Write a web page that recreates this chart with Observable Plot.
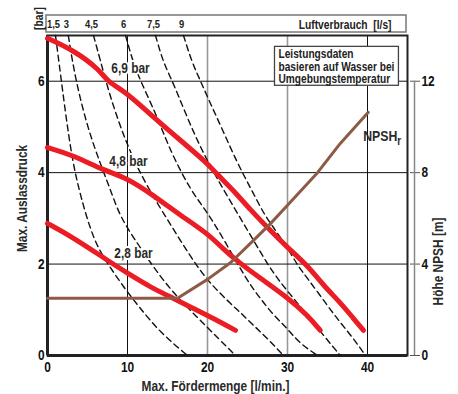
<!DOCTYPE html>
<html><head><meta charset="utf-8">
<script src="https://cdn.jsdelivr.net/npm/d3@7"></script>
<script src="https://cdn.jsdelivr.net/npm/@observablehq/plot@0.6"></script>
<style>
html,body{margin:0;padding:0;background:#fff;}
#chart{width:458px;height:394px;}
</style></head><body><div id="chart"></div>
<script>
const FONT = '"Liberation Sans",Arial,Helvetica,sans-serif';
const NARROW = 0.82; // Arial-Narrow-like horizontal compression
const xDomain = [0, 45];
const yDomain = [0, 7];
const xTicks = [0, 10, 20, 30, 40];
const yTicks = [0, 2, 4, 6];
const npshTicks = [0, 4, 8, 12];

// air consumption curves (l/min, bar)
const airLabels = ["1,5", "3", "4,5", "6", "7,5", "9"];
const air1_5 = [[1.0,7.0],[1.4,6.46],[2.25,5.3],[3.1,4.27],[4.1,3.5],[5.75,2.52],[7.5,2.01],[9.5,1.5],[11.5,1.05],[14.1,0.5],[17.5,0]];
const air3 = [[2.6,7.0],[3.5,6.02],[5.1,4.93],[6.6,4.2],[7.9,3.61],[9.1,3.02],[11.25,2.45],[13.25,1.93],[15.75,1.36],[18.75,0.83],[21.5,0.35],[23.5,0]];
const air4_5 = [[5.75,7.0],[6.6,6.46],[7.5,5.87],[8.6,5.26],[9.75,4.71],[11.0,4.2],[12.6,3.66],[14.5,3.11],[16.6,2.52],[18.75,1.93],[20.6,1.53],[22.5,1.2],[24.1,0.94],[25.75,0.66],[27.5,0.37],[29.5,0]];
const air6 = [[9.75,7.0],[10.75,6.39],[11.6,6.02],[13.5,5.3],[14.5,4.86],[15.75,4.34],[17.9,3.61],[20.0,3.13],[21.9,2.58],[24.1,1.9],[25.4,1.53],[26.6,1.25],[28.25,0.88],[30.0,0.59],[31.4,0.28],[33.75,0]];
const air7_5 = [[13.5,7.0],[14.5,6.39],[15.6,6.02],[18.25,4.86],[20.4,4.12],[21.9,3.66],[23.75,3.11],[25.75,2.52],[27.6,1.97],[29.1,1.6],[30.75,1.25],[32.5,0.88],[34.5,0.44],[36.6,0]];
const air9 = [[17.0,7.0],[18.1,6.39],[19.1,6.02],[20.0,5.65],[21.9,4.93],[23.75,4.2],[25.4,3.66],[27.0,3.11],[28.25,2.8],[30.0,2.36],[31.25,1.97],[32.5,1.69],[35.0,1.09],[36.6,0.72],[38.25,0.37],[39.75,0]];

// performance curves at inlet air pressure (l/min, bar)
const pressureLabels = ["6,9 bar", "4,8 bar", "2,8 bar"];
const p6_9 = [[0,6.94],[3.25,6.68],[6.6,6.24],[7.4,6.0],[10,5.74],[13.25,5.21],[16.6,4.71],[20,4.2],[21,4.0],[23.25,3.61],[25.4,3.18],[27.6,2.78],[30,2.36],[32.5,1.97],[34.5,1.53],[36.6,1.16],[38.25,0.81],[39.5,0.55]];
const p4_8 = [[0,4.55],[3.25,4.38],[7,4.05],[10,3.88],[13.25,3.5],[16.6,3.07],[20,2.67],[21.9,2.34],[23.9,2.04],[26.6,1.69],[30,1.27],[32.5,0.88],[34.1,0.55]];
const p2_8 = [[0,2.89],[3.25,2.58],[7.5,2.08],[10,1.8],[12.9,1.49],[15.75,1.25],[18.25,1.03],[20.75,0.81],[23.5,0.55]];

// NPSHr (l/min, m)
const npsh = [[0,2.5],[16.25,2.5],[20,3.33],[22.9,4.07],[25.75,5.04],[27.9,5.78],[30,6.57],[33.75,8.0],[36.6,9.28],[40.1,10.64]];

const airSeries = [air1_5, air3, air4_5, air6, air7_5, air9];
const airRows = airSeries.flatMap((pts, i) => pts.map(([f, p]) => ({air: airLabels[i], flow: f, p})));
const airTops = airSeries.map((pts, i) => ({air: airLabels[i], flow: pts[0][0], p: pts[0][1]}));
const pCurves = [p6_9, p4_8, p2_8];
const pRows = pCurves.flatMap((pts, i) => pts.map(([f, p]) => ({bar: pressureLabels[i], flow: f, p})));
const pAt10 = pCurves.map((pts, i) => {
  const q = pts.find(d => d[0] === 10);
  return {bar: pressureLabels[i], flow: q[0], p: q[1]};
});
const npshRows = npsh.map(([f, m]) => ({flow: f, m}));
const npshEnd = npshRows[npshRows.length - 1];
const m2bar = (yTicks[yTicks.length - 1]) / (npshTicks[npshTicks.length - 1]); // 12 m <-> 6 bar

const labelOffsets = [{dx: 3, dy: -25}, {dx: 1, dy: -17}, {dx: 6, dy: -20}];
const halo = {stroke: "white", strokeWidth: 4, fill: "#2a2a2a"};
const centered = {textAnchor: "middle", lineAnchor: "middle"};

const chart = Plot.plot({
  width: 458, height: 394,
  marginLeft: 47, marginRight: 51, marginTop: 35, marginBottom: 39,
  style: {fontFamily: FONT, background: "white", color: "#111", overflow: "visible"},
  x: {domain: xDomain},
  y: {domain: yDomain},
  marks: [
    // air-consumption strip above the plot
    Plot.rect([0], {x1: xDomain[0], x2: xDomain[1], y1: yDomain[1], y2: yDomain[1],
      insetTop: -20, insetBottom: 3, insetLeft: -1, insetRight: 1,
      fill: "white", stroke: "#777", strokeWidth: 1.5}),
    Plot.ruleX([10, 40], {stroke: "#111", strokeWidth: 1}),
    Plot.ruleX([20, 30], {stroke: "#999", strokeWidth: 1.6}),
    Plot.ruleY([2, 4, 6], {stroke: "#111", strokeWidth: 1}),
    Plot.frame({stroke: "#222", strokeWidth: 2}),
    Plot.ruleX([xDomain[0]], {stroke: "#222", strokeWidth: 3}),
    Plot.ruleY([yDomain[0]], {stroke: "#222", strokeWidth: 3}),
    Plot.line(airRows, {x: "flow", y: "p", z: "air", stroke: "#111", strokeWidth: 1.4,
      strokeDasharray: "6,4", curve: "basis"}),
    Plot.line(pRows, {x: "flow", y: "p", z: "bar", stroke: "#ec1c24", strokeWidth: 5,
      strokeLinecap: "round", strokeLinejoin: "round", curve: "basis"}),
    Plot.line(npshRows, {x: "flow", y: d => d.m * m2bar, stroke: "#8c5a45", strokeWidth: 3,
      strokeLinejoin: "round"}),
    ...pAt10.map((d, i) => Plot.text([d], {x: "flow", y: "p", text: "bar",
      dx: labelOffsets[i].dx, dy: labelOffsets[i].dy, fontSize: 14.5, fontWeight: "bold", ...halo})),
    Plot.text([npshEnd], {x: "flow", y: d => d.m * m2bar, text: () => "NPSH", textAnchor: "end",
      dx: 29, dy: 24, fontSize: 15, fontWeight: "bold", fill: "#2a2a2a"}),
    Plot.text([npshEnd], {x: "flow", y: d => d.m * m2bar, text: () => "r", textAnchor: "start",
      dx: 29, dy: 29, fontSize: 12, fontWeight: "bold", fill: "#2a2a2a"}),
    // air consumption labels
    Plot.text(airTops, {x: "flow", y: "p", text: "air", dy: -11, dx: -2, fontSize: 11.5, fontWeight: "bold", fill: "#222"}),
    Plot.text(["Luftverbrauch\u00a0\u00a0[l/s]"], {frameAnchor: "top-right", textAnchor: "end", lineAnchor: "middle",
      dx: -16, dy: -11, fontSize: 12.5, fontWeight: "bold", fill: "#222"}),
    Plot.text(["[bar]"], {frameAnchor: "top-left", rotate: -90, ...centered, dx: -9, dy: -17,
      fontSize: 12.5, fontWeight: "bold", fill: "#222"}),
    // axes
    Plot.axisX({ticks: xTicks, tickFormat: d => String(d), tickSize: 0, tickPadding: 6, fontSize: 14.5, fontWeight: "bold", label: null}),
    Plot.axisY({ticks: yTicks, tickFormat: d => String(d), tickSize: 0, tickPadding: 3, fontSize: 14.5, fontWeight: "bold", label: null}),
    Plot.axisY({anchor: "right", ticks: npshTicks.map(d => d * m2bar), tickFormat: d => String(Math.round(d / m2bar)),
      tickSize: 10, dx: 2, tickPadding: 2, stroke: "#555", fontSize: 14.5, fontWeight: "bold", label: null}),
    Plot.ruleX([xDomain[1]], {y1: npshTicks[0] * m2bar, y2: npshTicks[npshTicks.length - 1] * m2bar,
      dx: 7, stroke: "#888", strokeWidth: 1.5}),
    Plot.text(["Max. Fördermenge [l/min.]"], {frameAnchor: "bottom", ...centered, dx: -12, dy: 31,
      fontSize: 14.5, fontWeight: "bold", fill: "#2a2a2a"}),
    Plot.text(["Max. Auslassdruck"], {frameAnchor: "left", rotate: -90, ...centered, dx: -25, dy: 3,
      fontSize: 14.5, fontWeight: "bold", fill: "#2a2a2a"}),
    Plot.text(["Höhe NPSH [m]"], {frameAnchor: "right", rotate: -90, ...centered, dx: 31, dy: 66,
      fontSize: 14.5, fontWeight: "bold", fill: "#2a2a2a"}),
    // note
    Plot.text(["Leistungsdaten\nbasieren auf Wasser bei\nUmgebungstemperatur"], {frameAnchor: "top-right",
      textAnchor: "start", lineAnchor: "top", dx: -129, dy: 14, lineHeight: 1.0, fontSize: 12.4, fontWeight: "bold",
      fill: "#222"})
  ]
});
document.getElementById("chart").appendChild(chart);

// narrow (condensed) glyphs: compress each text horizontally around its own anchor
chart.querySelectorAll("text").forEach(t => {
  const tr = t.getAttribute("transform") || "";
  const x = +t.getAttribute("x") || 0, y = +t.getAttribute("y") || 0;
  t.setAttribute("transform", `${tr} translate(${x},${y}) scale(${NARROW},1) translate(${-x},${-y})`.trim());
});

// white box with border behind the note text
const note = Array.from(chart.querySelectorAll("text")).find(t => t.textContent.startsWith("Leistungsdaten"));
if (note) {
  const sr = chart.getBoundingClientRect();
  const bb = note.getBoundingClientRect();
  const r = document.createElementNS("http://www.w3.org/2000/svg", "rect");
  r.setAttribute("x", bb.left - sr.left - 4); r.setAttribute("y", bb.top - sr.top - 1);
  r.setAttribute("width", bb.width + 8); r.setAttribute("height", bb.height + 1);
  r.setAttribute("fill", "white"); r.setAttribute("stroke", "#444"); r.setAttribute("stroke-width", 1.3);
  const g = note.closest("g[aria-label]") || note.parentNode;
  g.parentNode.insertBefore(r, g);
}
</script></body></html>
